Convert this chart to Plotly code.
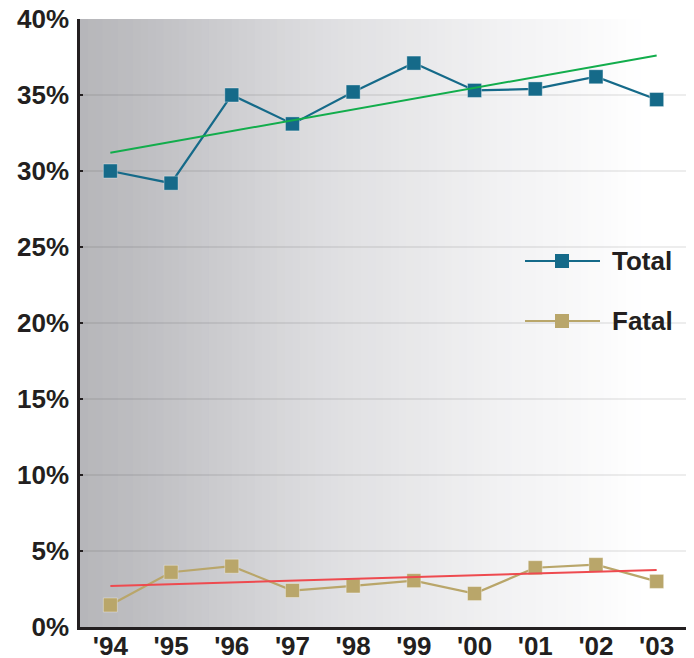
import plotly.graph_objects as go

years = ["'94", "'95", "'96", "'97", "'98", "'99", "'00", "'01", "'02", "'03"]
total = [30.0, 29.2, 35.0, 33.1, 35.2, 37.1, 35.3, 35.4, 36.2, 34.7]
fatal = [1.45, 3.6, 4.0, 2.4, 2.7, 3.05, 2.2, 3.9, 4.1, 3.0]
trend_x = ["'94", "'03"]
trend_total = [31.2, 37.6]
trend_fatal = [2.7, 3.75]
y_ticks = [0, 5, 10, 15, 20, 25, 30, 35, 40]
y_tick_labels = ["0%", "5%", "10%", "15%", "20%", "25%", "30%", "35%", "40%"]

C_TOTAL = "#156a89"
C_FATAL = "#b9a66a"
C_TT = "#12ad4c"
C_TF = "#ee4a4f"
FONT = "Liberation Sans, Arial, Helvetica, sans-serif"

fig = go.Figure()
fig.add_trace(go.Scatter(x=years, y=total, mode="lines+markers", name="Total",
                         line=dict(color=C_TOTAL, width=2.2),
                         marker=dict(symbol="square", size=14, color=C_TOTAL,
                                     line=dict(color="rgba(255,255,255,0.35)", width=1)),
                         showlegend=False))
fig.add_trace(go.Scatter(x=years, y=fatal, mode="lines+markers", name="Fatal",
                         line=dict(color=C_FATAL, width=2.2),
                         marker=dict(symbol="square", size=14, color=C_FATAL,
                                     line=dict(color="rgba(255,255,255,0.35)", width=1)),
                         showlegend=False))
fig.add_trace(go.Scatter(x=trend_x, y=trend_total, mode="lines",
                         line=dict(color=C_TT, width=2), showlegend=False, hoverinfo="skip"))
fig.add_trace(go.Scatter(x=trend_x, y=trend_fatal, mode="lines",
                         line=dict(color=C_TF, width=2), showlegend=False, hoverinfo="skip"))

# background gradient (decorative)
shapes = []
N = 80
stops = [(0.0, 182), (0.1, 190), (0.25, 206), (0.4, 222), (0.55, 232), (0.7, 242), (0.85, 250), (0.93, 255), (1.0, 255)]
def grey(t):
    for (a, va), (b, vb) in zip(stops[:-1], stops[1:]):
        if a <= t <= b:
            return va + (vb - va) * (t - a) / (b - a)
    return 255
for i in range(N):
    t0, t1 = i / N, (i + 1) / N
    g = grey((t0 + t1) / 2)
    r = int(round(g)); b = int(round(min(255, g + 4 * (1 - t0))))
    shapes.append(dict(type="rect", xref="x domain", yref="y domain", x0=t0, x1=t1 + 0.002,
                       y0=0, y1=1, fillcolor=f"rgb({r},{r},{b})", line=dict(width=0), layer="below"))

# manual legend (page offset of 8px from body margin)
PW, PH = 607.0, 608.0
def px(x): return (x - 80) / PW
def py(y): return (627 - y) / PH
annotations = []
for name, col, yy in [("Total", C_TOTAL, 261), ("Fatal", C_FATAL, 321)]:
    shapes.append(dict(type="line", xref="paper", yref="paper", x0=px(525), x1=px(600),
                       y0=py(yy), y1=py(yy), line=dict(color=col, width=2.2), layer="above"))
    shapes.append(dict(type="rect", xref="paper", yref="paper", x0=px(555), x1=px(569),
                       y0=py(yy + 7), y1=py(yy - 7), fillcolor=col, line=dict(width=0), layer="above"))
    annotations.append(dict(text=f"<b>{name}</b>", xref="paper", yref="paper", x=px(610), y=py(yy),
                            xanchor="left", yanchor="middle", showarrow=False,
                            font=dict(family=FONT, size=26, color="#231f20")))

fig.update_layout(
    width=686, height=650,
    margin=dict(l=72, r=7, t=11, b=31),
    paper_bgcolor="white", plot_bgcolor="white",
    shapes=shapes, annotations=annotations,
    showlegend=False,
    font=dict(family=FONT, size=26, color="#231f20"),
)
fig.update_xaxes(type="category", categoryorder="array", categoryarray=years,
                 range=[-0.5, 9.5], showgrid=False,
                 showline=True, linecolor="#231f20", linewidth=2.5,
                 tickfont=dict(family=FONT, size=26, color="#231f20", weight="bold"),
                 ticks="", ticklabelstandoff=-6, ticklabeloverflow="allow",
                 automargin=False, fixedrange=True)
fig.update_yaxes(range=[0, 40], tickvals=y_ticks, ticktext=y_tick_labels,
                 showgrid=True, gridcolor="rgba(0,0,0,0.07)", gridwidth=2,
                 showline=True, linecolor="#231f20", linewidth=2.5,
                 ticks="inside", ticklen=3, tickwidth=2, tickcolor="#231f20",
                 ticklabelstandoff=3, ticklabeloverflow="allow",
                 tickfont=dict(family=FONT, size=26, color="#231f20", weight="bold"),
                 zeroline=False, automargin=False, fixedrange=True)

fig.write_html("out.html")
